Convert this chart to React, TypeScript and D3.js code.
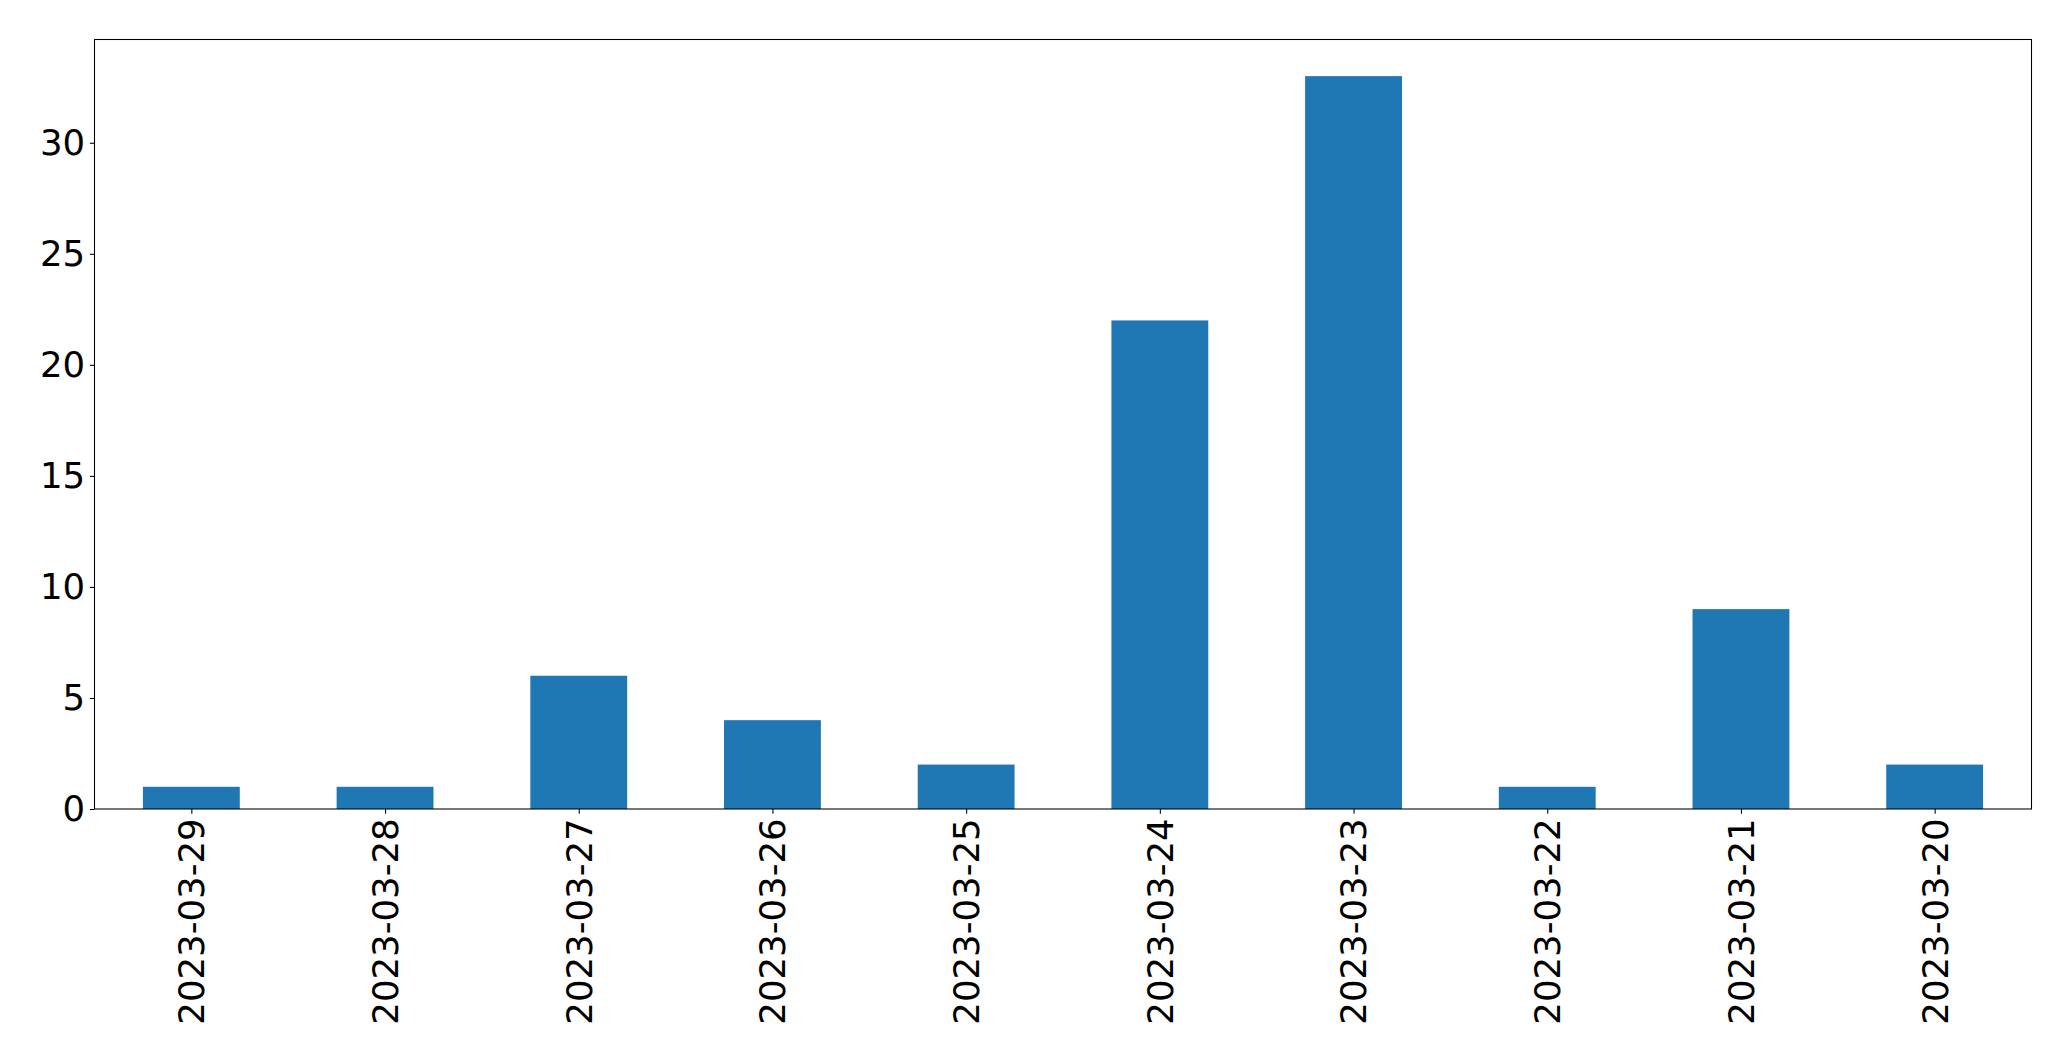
import React, { useEffect, useRef } from 'react';
import * as d3 from 'd3';

const dates = [
  '2023-03-29', '2023-03-28', '2023-03-27', '2023-03-26', '2023-03-25',
  '2023-03-24', '2023-03-23', '2023-03-22', '2023-03-21', '2023-03-20',
];
const counts = [1, 1, 6, 4, 2, 22, 33, 1, 9, 2];
const yTicks = [0, 5, 10, 15, 20, 25, 30];

const App: React.FC = () => {
  const svgRef = useRef<SVGSVGElement>(null);

  useEffect(() => {
    const totalWidth = 2071;
    const totalHeight = 1061;
    const margin = { top: 39.5, right: 39.5, bottom: 252, left: 94.5 };
    const width = totalWidth - margin.left - margin.right;
    const height = totalHeight - margin.top - margin.bottom;
    const font = 'DejaVu Sans, sans-serif';
    const fontSize = 35.5;

    const root = d3.select(svgRef.current);
    root.selectAll('*').remove();
    root.attr('width', totalWidth).attr('height', totalHeight);

    const svg = root.append('g')
      .attr('transform', `translate(${margin.left}, ${margin.top})`);

    // pandas style: categories at integer positions, xlim (-0.5, n-0.5)
    const xScale = d3.scaleLinear()
      .domain([-0.5, dates.length - 0.5])
      .range([0, width]);

    const yScale = d3.scaleLinear()
      .domain([0, (d3.max(counts) || 0) * 1.05])
      .range([height, 0]);

    const barW = xScale(0.25) - xScale(-0.25);

    svg.selectAll('rect.bar')
      .data(counts)
      .enter().append('rect')
      .attr('class', 'bar')
      .attr('x', (_, i) => xScale(i) - barW / 2)
      .attr('y', d => yScale(d))
      .attr('width', barW)
      .attr('height', d => height - yScale(d))
      .attr('fill', '#1f77b4');

    const tickLen = 4.67;
    const pad = 4.67;

    const xAxis = d3.axisBottom(xScale)
      .tickValues(d3.range(dates.length))
      .tickFormat((d: any) => dates[d as number])
      .tickSize(tickLen)
      .tickPadding(pad);

    const gx = svg.append('g')
      .attr('transform', `translate(0,${height})`)
      .call(xAxis as any);
    gx.select('.domain').remove();
    gx.selectAll('line').attr('stroke', '#000').attr('stroke-width', 1.07);
    gx.selectAll('text')
      .attr('transform', 'rotate(-90)')
      .attr('x', -(tickLen + pad))
      .attr('y', 0)
      .attr('dy', '0.35em')
      .style('text-anchor', 'end')
      .style('font-family', font)
      .style('font-size', `${fontSize}px`)
      .attr('fill', '#000');

    const yAxis = d3.axisLeft(yScale)
      .tickValues(yTicks)
      .tickSize(tickLen)
      .tickPadding(pad);

    const gy = svg.append('g').call(yAxis as any);
    gy.select('.domain').remove();
    gy.selectAll('line').attr('stroke', '#000').attr('stroke-width', 1.07);
    gy.selectAll('text')
      .style('font-family', font)
      .style('font-size', `${fontSize}px`)
      .attr('fill', '#000');

    // frame
    svg.append('rect')
      .attr('x', 0)
      .attr('y', 0)
      .attr('width', width)
      .attr('height', height)
      .attr('fill', 'none')
      .attr('stroke', '#000')
      .attr('stroke-width', 1.07);
  }, []);

  return (
    <svg ref={svgRef} style={{ position: 'absolute', left: 0, top: 0 }}></svg>
  );
};

export default App;
